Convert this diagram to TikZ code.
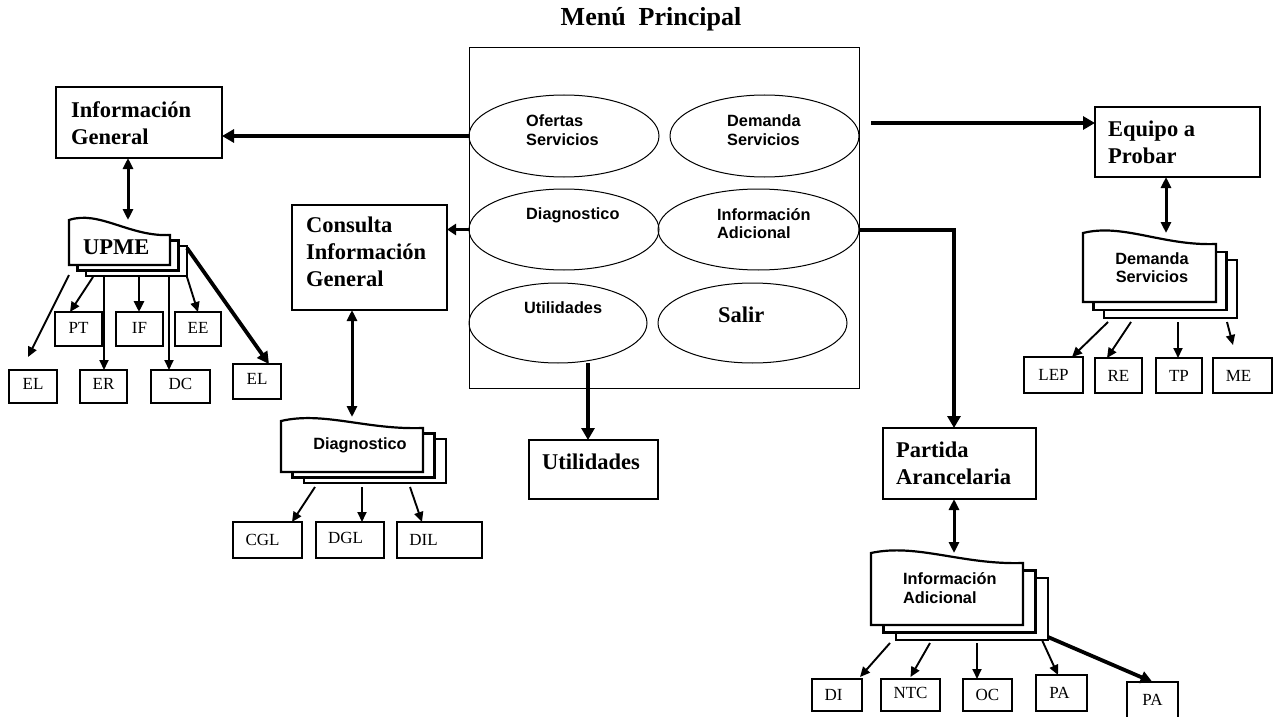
\documentclass[tikz,border=0pt]{standalone}
\usepackage{fontspec}
\setmainfont{Liberation Serif}
\newfontfamily\arialf{Liberation Sans}
\usetikzlibrary{arrows.meta,shapes.geometric}

\newcommand\mybig{\bfseries\fontsize{22.5}{27}\selectfont}
\newcommand\mysans{\arialf\bfseries\fontsize{16.3}{18.5}\selectfont}
\newcommand\mysmall{\fontsize{17}{20}\selectfont}

% small box: name x1 y1 x2 y2 text textshift
\newcommand\smallbx[7]{%
  \node[box, minimum width={(#4-#2)*1pt}, minimum height={(#5-#3)*1pt}] (#1) at ({(#2+#4)/2},{(#3+#5)/2}) {};
  \node[stxt] (#1t) at ([shift={(0,0)},#7]#1.center) {#6};}

% stacked documents: name x1 yL x2 yR y2 dx dy
\newcommand\mdoc[8]{%
  \draw[doc] (#2,#6) -- (#2,#3) .. controls ({#2+0.3*(#4-#2)},{#3-10}) and ({#2+0.6*(#4-#2)},{#5+2}) .. (#4,#5) -- (#4,#6) -- cycle;
  \draw[doc] (#4,{#5+#8}) -- ({#4+#7},{#5+#8}) -- ({#4+#7},{#6+#8}) -- ({#2+#7},{#6+#8}) -- ({#2+#7},#6);
  \draw[doc] ({#4+#7},{#5+2*#8}) -- ({#4+2*#7},{#5+2*#8}) -- ({#4+2*#7},{#6+2*#8}) -- ({#2+2*#7},{#6+2*#8}) -- ({#2+2*#7},{#6+#8});
  \node[inner sep=0pt, outer sep=0pt, minimum width={(#4-#2)*1pt}, minimum height={(#6-#3)*1pt}] (#1) at ({(#2+#4)/2},{(#3+#6)/2}) {};}

\begin{document}
\begin{tikzpicture}[x=1pt,y=-1pt,
  box/.style={draw, line width=1.1pt, inner sep=0pt, outer sep=0pt},
  ell/.style={draw, ellipse, line width=1pt, inner sep=0pt, outer sep=0pt},
  doc/.style={line width=2.2pt, line join=miter},
  bigtxt/.style={font=\mybig, align=left, inner sep=0pt},
  sanstxt/.style={font=\mysans, align=left, inner sep=0pt},
  stxt/.style={font=\mysmall, inner sep=0pt},
  thickar/.style={line width=4pt, -{Triangle[length=12pt,width=13pt]}},
  medar/.style={line width=2.8pt, -{Triangle[length=11pt,width=10pt]}},
  thinar/.style={line width=1.9pt, -{Triangle[length=10pt,width=9pt]}},
  dblar/.style={line width=3pt, {Triangle[length=11pt,width=10pt]}-{Triangle[length=11pt,width=10pt]}}]

\fill[white] (0,0) rectangle (1278,717);
\useasboundingbox (0,0) rectangle (1278,717);

% title and main menu
\node[font=\bfseries\fontsize{26}{30}\selectfont, anchor=base] (title) at (651,26) {Menú\ \ Principal};
\node[box, line width=1pt, minimum width=390pt, minimum height=340pt] (menu) at (664,218) {};

\node[ell, minimum width=190pt, minimum height=82pt] (of) at (564,136) {};
\node[ell, minimum width=189pt, minimum height=82pt] (dm) at (764.5,136) {};
\node[ell, minimum width=190pt, minimum height=81pt] (dg) at (564,229.5) {};
\node[ell, minimum width=201pt, minimum height=81pt] (ia) at (758.5,229.5) {};
\node[ell, minimum width=178pt, minimum height=80pt] (ut) at (558,323) {};
\node[ell, minimum width=189pt, minimum height=80pt] (sa) at (752.5,323) {};

\node[sanstxt, anchor=west] (oft) at (526,130) {Ofertas\\Servicios};
\node[sanstxt, anchor=west] (dmt) at (727,130) {Demanda\\Servicios};
\node[sanstxt, anchor=base west] (dgt) at (526,219.8) {Diagnostico};
\node[sanstxt, anchor=west] (iat) at (717,223.5) {Información\\Adicional};
\node[sanstxt, anchor=base west] (utt) at (524,313.8) {Utilidades};
\node[bigtxt, anchor=base west] (sat) at (718,322.5) {Salir};

% big boxes
\node[box, minimum width=166pt, minimum height=71pt] (ig) at (139,122.5) {};
\node[bigtxt, anchor=west] (igt) at (71,123) {Información\\General};
\node[box, minimum width=155pt, minimum height=105pt] (cons) at (369.5,257.5) {};
\node[bigtxt, anchor=west] (const) at (306,252) {Consulta\\Información\\General};
\node[box, minimum width=165pt, minimum height=70pt] (eq) at (1177.5,142) {};
\node[bigtxt, anchor=west] (eqt) at (1108,142) {Equipo a\\Probar};
\node[box, minimum width=153pt, minimum height=71pt] (pa) at (959.5,463.5) {};
\node[bigtxt, anchor=west] (pat) at (896,463) {Partida\\Arancelaria};
\node[box, minimum width=129pt, minimum height=59pt] (utb) at (593.5,469.5) {};
\node[bigtxt, anchor=base] (utbt) at (591,469.5) {Utilidades};

% stacked documents
\mdoc{upme}{69}{220}{170}{235}{265}{8.5}{5.5}
\node[bigtxt, anchor=base west] (upmet) at (83,254.5) {UPME};
\mdoc{dd}{281}{421}{423}{428}{472}{11.5}{5.5}
\node[sanstxt, anchor=base] (ddt) at (360,449) {Diagnostico};
\mdoc{dem}{1083}{233}{1216}{244}{302}{10.5}{8}
\node[sanstxt, align=center] (demt) at (1152,267.5) {Demanda\\Servicios};
\mdoc{iad}{871}{553}{1023}{563}{625}{12.5}{7.5}
\node[sanstxt, anchor=west] (iadt) at (903,588) {Información\\Adicional};

% small boxes
\smallbx{ell}{9}{370}{57}{403}{EL}{yshift=3}
\smallbx{pt}{55}{312}{102}{346}{PT}{yshift=1}
\smallbx{nif}{116}{312}{163}{346}{IF}{yshift=1}
\smallbx{ee}{175}{312}{221}{346}{EE}{yshift=1}
\smallbx{er}{80}{370}{127}{403}{ER}{yshift=3}
\smallbx{dc}{151}{370}{210}{403}{DC}{yshift=3}
\smallbx{elr}{233}{364}{281}{399}{EL}{yshift=3}
\smallbx{cgl}{233}{522}{302}{558}{CGL}{xshift=-5}
\smallbx{dgl}{316}{522}{384}{558}{DGL}{xshift=-4.5,yshift=2}
\smallbx{dil}{397}{522}{482}{558}{DIL}{xshift=-16}
\smallbx{lep}{1024}{357}{1083}{393}{LEP}{}
\smallbx{re}{1095}{358}{1142}{393}{RE}{}
\smallbx{tp}{1156}{358}{1202}{393}{TP}{}
\smallbx{me}{1213}{358}{1272}{393}{ME}{xshift=-4}
\smallbx{di}{812}{679}{862}{711}{DI}{xshift=-3.5}
\smallbx{ntc}{881}{679}{940}{711}{NTC}{yshift=2}
\smallbx{oc}{963}{679}{1012}{711}{OC}{}
\smallbx{pa1}{1036}{675}{1087}{711}{PA}{xshift=-2}
\smallbx{pa2}{1127}{682}{1178}{722}{PA}{yshift=2}

% main connectors
\draw[thickar] (of.west) -- (of.west -| ig.east);
\draw[line width=3.8pt, -{Triangle[length=9pt,width=11pt]}] (dg.west) -- (dg.west -| cons.east);
\coordinate (dmst) at (871,123);
\draw[thickar] (dmst) -- (dmst -| eq.west);
\draw[thickar] (ia.east) -| ([xshift=-5.5]pa.north);
\coordinate (utst) at (588,363);
\draw[thickar] (utst) -- (utst |- utb.north);

% double arrows
\draw[dblar] ([xshift=8.5]upme.north |- ig.south) -- ([xshift=8.5]upme.north);
\draw[dblar] (dd.north |- cons.south) -- ([yshift=4]dd.north);
\draw[dblar] ([xshift=16.5]dem.north |- eq.south) -- ([xshift=16.5]dem.north);
\draw[dblar] ([xshift=7]iad.north |- pa.south) -- ([xshift=7]iad.north);

% UPME children
\coordinate (u1) at (69,275); \draw[thinar] (u1) -- ([xshift=-5,yshift=13]ell.north);
\coordinate (u2) at (93,277); \draw[thinar] (u2) -- ([xshift=-8.5]pt.north);
\coordinate (u3) at (104,277); \draw[thinar] (u3) -- (u3 |- er.north);
\coordinate (u4) at (139,277); \draw[medar] (u4) -- (u4 |- nif.north);
\coordinate (u5) at (169,277); \draw[thinar] (u5) -- (u5 |- dc.north);
\coordinate (u6) at (187,277); \draw[thinar] (u6) -- (ee.north);
\coordinate (u7) at (187,248); \draw[line width=3.8pt, -{Triangle[length=12pt,width=12pt]}] (u7) -- ([xshift=12]elr.north);

% Diagnostico children
\coordinate (d1) at (315,487); \draw[thinar] (d1) -- ([xshift=24.5]cgl.north);
\coordinate (d2) at (362,487); \draw[thinar] (d2) -- (d2 |- dgl.north);
\coordinate (d3) at (410,487); \draw[thinar] (d3) -- ([xshift=-17.5]dil.north);

% Demanda children
\coordinate (m1) at (1108,322); \draw[thinar] (m1) -- ([xshift=18.5]lep.north);
\coordinate (m2) at (1131,322); \draw[thinar] (m2) -- ([xshift=-11.5]re.north);
\coordinate (m3) at (1178,322); \draw[thinar] (m3) -- (m3 |- tp.north);
\coordinate (m4) at (1227,322); \draw[thinar] (m4) -- ([xshift=-9.5,yshift=13]me.north);

% Informacion Adicional children
\coordinate (a1) at (890,643); \draw[thinar] (a1) -- ([xshift=23,yshift=2]di.north);
\coordinate (a2) at (930,643); \draw[thinar] (a2) -- ([yshift=2]ntc.north);
\coordinate (a3) at (977,643); \draw[thinar] (a3) -- (a3 |- oc.north);
\coordinate (a4) at (1042,640); \draw[thinar] (a4) -- ([xshift=-3.5]pa1.north);
\coordinate (a5) at (1048,637); \draw[line width=3.8pt, -{Triangle[length=12pt,width=12pt]}] (a5) -- (pa2.north);
\end{tikzpicture}
\end{document}
